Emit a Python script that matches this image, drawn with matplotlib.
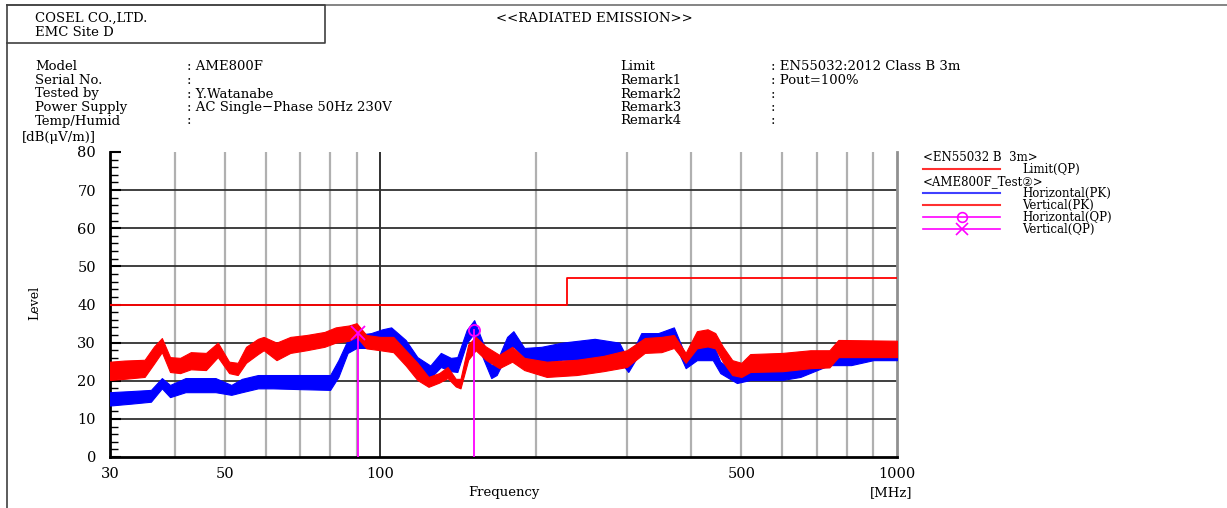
import matplotlib
matplotlib.use('Agg')
import matplotlib.pyplot as plt
from matplotlib.ticker import FixedLocator, MultipleLocator, NullLocator

plt.rcParams['font.family'] = ['DejaVu Serif', 'DejaVu Sans', 'Noto Sans CJK JP']

# ---- data ----
# limit EN55032 class B 3m (QP)
limit_freq = [30, 230, 230, 1000]
limit_level = [40, 40, 47, 47]

# Vertical (PK) envelope: freq [MHz], lower, upper [dBuV/m]
vpk_freq = [30, 32, 35, 36.5, 37.8, 39.2, 41, 43, 46, 48.5, 51, 53, 55, 58, 59.5, 63, 67, 72,
            78, 82, 87, 90, 94, 100, 106, 112, 118, 124, 130, 135, 140, 143, 148, 153, 160, 170,
            180, 190, 210, 240, 270, 300, 325, 350, 370, 390, 410, 430, 445, 460, 480, 500, 520,
            600, 680, 740, 770, 1000]
vpk_lo = [20.2, 20.5, 21.0, 24.5, 27.5, 22.3, 22.0, 23.0, 22.8, 26.2, 22.0, 21.5, 24.7, 27.0,
          28.0, 25.4, 27.3, 28.0, 28.9, 30.0, 30.5, 31.5, 28.5, 28.0, 27.5, 24.0, 20.2, 18.4,
          19.5, 20.7, 18.5, 18.0, 25.5, 28.0, 25.5, 23.3, 25.0, 22.8, 21.0, 21.5, 22.5, 23.6,
          27.3, 27.5, 28.6, 24.7, 28.5, 29.0, 28.5, 25.0, 21.5, 21.0, 22.3, 22.5, 23.3, 23.5,
          26.2, 26.2]
vpk_hi = [25.0, 25.3, 25.5, 29.0, 31.2, 26.2, 26.0, 27.5, 27.3, 30.0, 25.0, 24.7, 28.9, 31.0,
          31.5, 30.0, 31.5, 32.0, 32.8, 34.0, 34.5, 35.1, 32.0, 31.5, 31.5, 28.0, 24.7, 21.0,
          22.0, 23.6, 20.5, 20.5, 29.5, 31.5, 29.0, 26.8, 28.9, 26.0, 25.0, 25.5, 26.5, 28.0,
          31.2, 31.5, 32.0, 27.3, 33.0, 33.5, 32.5, 29.0, 25.4, 24.7, 27.0, 27.3, 28.0, 28.0,
          30.7, 30.5]

# Horizontal (PK) envelope
hpk_freq = [30, 33, 36, 37.8, 39.2, 42, 48, 51.5, 54, 58, 62, 70, 80, 83, 86.5, 90, 96, 101,
            105, 112, 118, 125, 131, 137, 141, 147, 152, 158, 164, 168, 176, 181, 190, 205, 225,
            260, 290, 302, 320, 345, 370, 390, 410, 440, 455, 490, 520, 600, 650, 740, 815, 900,
            1000]
hpk_lo = [13.5, 14.0, 14.5, 18.0, 15.7, 17.0, 17.0, 16.3, 17.0, 18.0, 18.0, 17.8, 17.6, 21.0,
          27.3, 28.6, 28.6, 29.5, 30.0, 26.8, 22.5, 20.7, 23.6, 22.5, 22.3, 29.9, 32.5, 26.0,
          20.7, 21.5, 27.0, 29.0, 26.0, 24.7, 25.5, 25.5, 25.4, 22.3, 28.0, 28.5, 30.2, 23.3,
          25.4, 25.4, 22.0, 19.4, 20.2, 20.2, 21.0, 24.1, 24.1, 25.4, 25.4]
hpk_hi = [17.0, 17.3, 17.6, 20.7, 18.9, 20.7, 20.7, 18.9, 20.5, 21.5, 21.5, 21.5, 21.5, 25.4,
          30.7, 32.0, 32.5, 33.5, 34.0, 30.7, 26.2, 24.0, 27.3, 26.0, 26.2, 33.3, 35.9, 30.0,
          24.0, 25.0, 31.5, 33.0, 28.6, 28.9, 30.0, 31.0, 30.0, 25.4, 32.5, 32.5, 34.0, 26.5,
          29.4, 29.9, 25.0, 22.0, 23.6, 23.6, 24.0, 26.8, 26.8, 27.5, 27.5]

# QP points
hqp_freq = [152]
hqp_level = [33.3]
vqp_freq = [90.6]
vqp_level = [32.4]

x_ticks = [30, 50, 100, 500, 1000]
x_grid_minor = [40, 50, 60, 70, 80, 90, 200, 300, 400, 500, 600, 700, 800, 900]

left_labels = ['Model', 'Serial No.', 'Tested by', 'Power Supply', 'Temp/Humid']
left_values = [': AME800F', ':', ': Y.Watanabe', ': AC Single\u2212Phase 50Hz 230V', ':']
right_labels = ['Limit', 'Remark1', 'Remark2', 'Remark3', 'Remark4']
right_values = [': EN55032:2012 Class B 3m', ': Pout=100%', ':', ':', ':']

fig = plt.figure(figsize=(12.27, 5.08), dpi=100)

# page layer in pixel coordinates (y down)
bg = fig.add_axes([0, 0, 1, 1])
bg.set_xlim(0, 1227)
bg.set_ylim(508, 0)
bg.axis('off')

frame_c = '#404040'
bg.plot([7, 1227], [5, 5], color='#707070', lw=1.2)
bg.plot([7, 7], [5, 508], color=frame_c, lw=1.2)
bg.plot([7, 325, 325, 7], [43, 43, 5, 5], color=frame_c, lw=1.2)

fs = 9.5
bg.text(35, 21.5, 'COSEL CO.,LTD.', fontsize=fs, va='baseline')
bg.text(35, 35.5, 'EMC Site D', fontsize=fs, va='baseline')
bg.text(496, 21.5, '<<RADIATED EMISSION>>', fontsize=fs, va='baseline')

rows_base = [70.5, 84, 97.5, 111, 124.5]
for y, a, b, c, d in zip(rows_base, left_labels, left_values, right_labels, right_values):
    bg.text(35, y, a, fontsize=fs, va='baseline')
    bg.text(187, y, b, fontsize=fs, va='baseline')
    bg.text(620, y, c, fontsize=fs, va='baseline')
    bg.text(771, y, d, fontsize=fs, va='baseline')

bg.text(22, 141.5, '[dB(\u03bcV/m)]', fontsize=fs, va='baseline')
bg.text(35, 303, 'Level', fontsize=9, va='center', ha='center', rotation=90)
bg.text(504, 496, 'Frequency', fontsize=fs, va='baseline', ha='center')
bg.text(870, 496, '[MHz]', fontsize=fs, va='baseline')

# legend
lfs = 8.5
bg.text(923, 161, '<EN55032 B  3m>', fontsize=lfs, va='baseline')
bg.plot([923, 1000], [169, 169], color='#ff3030', lw=1.5)
bg.text(1022, 173, 'Limit(QP)', fontsize=lfs, va='baseline')
bg.text(923, 185, '<AME800F_Test\u2461>', fontsize=lfs, va='baseline')
bg.plot([923, 1000], [193, 193], color='#4040ff', lw=1.5)
bg.text(1022, 197, 'Horizontal(PK)', fontsize=lfs, va='baseline')
bg.plot([923, 1000], [205, 205], color='#ff3030', lw=1.5)
bg.text(1022, 209, 'Vertical(PK)', fontsize=lfs, va='baseline')
bg.plot([923, 1000], [217, 217], color='#ff00ff', lw=1.2)
bg.plot([962], [217], 'o', ms=7, mfc='none', mec='#ff00ff', mew=1.2)
bg.text(1022, 221, 'Horizontal(QP)', fontsize=lfs, va='baseline')
bg.plot([923, 1000], [229, 229], color='#ff00ff', lw=1.2)
bg.plot([962], [229], 'x', ms=8, mec='#ff00ff', mew=1.2)
bg.text(1022, 233, 'Vertical(QP)', fontsize=lfs, va='baseline')

# main chart
ax = fig.add_axes([110 / 1227, 51 / 508, 787 / 1227, 305 / 508])
ax.set_xscale('log')
ax.set_xlim(30, 1000)
ax.set_ylim(0, 80)
ax.patch.set_alpha(0)

for f in x_grid_minor:
    ax.axvline(f, color='#b0b0b0', lw=1.6, zorder=1)
ax.axvline(100, color='#202020', lw=1.3, zorder=1)
for v in range(10, 80, 10):
    ax.axhline(v, color='#303030', lw=1.3, zorder=1)

ax.fill_between(hpk_freq, hpk_lo, hpk_hi, color='#0000ff', lw=0.8, zorder=3)
ax.fill_between(vpk_freq, vpk_lo, vpk_hi, color='#ff0000', lw=0.8, zorder=4)
ax.plot(limit_freq, limit_level, color='#ff0000', lw=1.3, zorder=5)

for f, v in zip(vqp_freq, vqp_level):
    ax.plot([f, f], [0, v], color='#ff00ff', lw=1.3, zorder=6)
for f, v in zip(hqp_freq, hqp_level):
    ax.plot([f, f], [0, v], color='#ff00ff', lw=1.3, zorder=6)
ax.plot(vqp_freq, vqp_level, 'x', ms=10, mec='#ff00ff', mew=1.3, zorder=7)
ax.plot(hqp_freq, hqp_level, 'o', ms=8, mfc='none', mec='#ff00ff', mew=1.3, zorder=7)

ax.spines['top'].set_visible(False)
ax.spines['right'].set_color('#909090')
ax.spines['right'].set_linewidth(2)
ax.spines['left'].set_linewidth(2)
ax.spines['bottom'].set_linewidth(2)

ax.xaxis.set_major_locator(FixedLocator(x_ticks))
ax.xaxis.set_minor_locator(NullLocator())
ax.set_xticklabels([str(t) for t in x_ticks])
ax.tick_params(axis='x', length=0, pad=7, labelsize=10.5)
ax.yaxis.set_major_locator(MultipleLocator(10))
ax.yaxis.set_minor_locator(MultipleLocator(2))
ax.tick_params(axis='y', which='major', direction='in', length=8, width=1.5, pad=10, labelsize=10.5)
ax.tick_params(axis='y', which='minor', direction='in', length=6, width=1)

fig.savefig('out.png', dpi=100)
